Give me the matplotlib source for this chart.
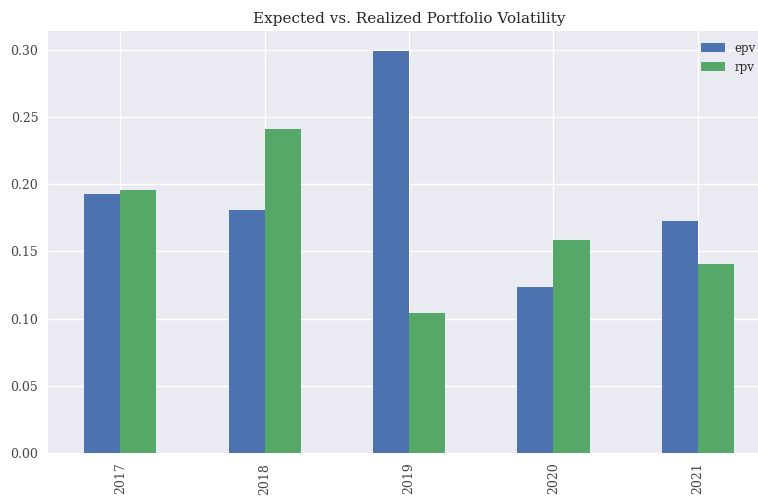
import matplotlib
matplotlib.use("Agg")
import matplotlib.pyplot as plt
import pandas as pd

years = ["2017", "2018", "2019", "2020", "2021"]
epv = [0.1925, 0.181, 0.299, 0.1236, 0.1727]
rpv = [0.196, 0.241, 0.104, 0.1586, 0.1407]

plt.style.use("seaborn-v0_8")
plt.rcParams["font.family"] = ["DejaVu Serif"]

df = pd.DataFrame({"epv": epv, "rpv": rpv}, index=years)

fig, ax = plt.subplots(figsize=(7.58, 5.0), dpi=100)
df.plot(kind="bar", ax=ax)
ax.set_title("Expected vs. Realized Portfolio Volatility", fontsize=11)
ax.tick_params(axis="both", labelsize=9, labelcolor="#444444")
ax.legend(loc="upper right", fontsize=8.5, bbox_to_anchor=(0.995, 1.0))

# the original is cropped a little on the right side
ax.set_position([48 / 758, 47 / 500, 722 / 758, 422 / 500])
fig.savefig("out.png")
